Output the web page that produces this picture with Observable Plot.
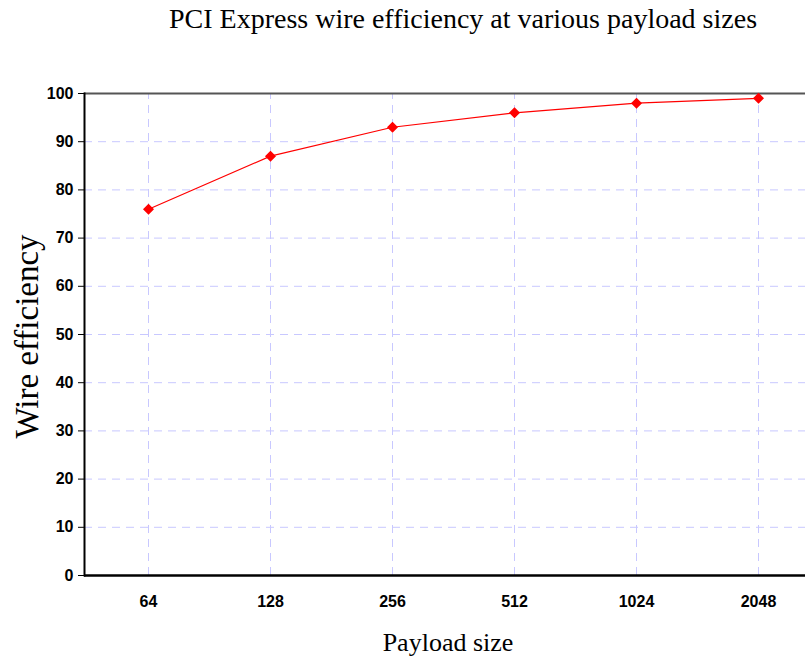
<!DOCTYPE html>
<html>
<head>
<meta charset="utf-8">
<script src="https://cdn.jsdelivr.net/npm/d3@7"></script>
<script src="https://cdn.jsdelivr.net/npm/@observablehq/plot@0.6"></script>
<style>
  body { margin: 0; background: #fff; }
  #wrap { position: relative; width: 805px; height: 656px; overflow: hidden; }
  #title { position: absolute; top: 5px; left: 121px; width: 684px; text-align: center; line-height: 28px;
           font-family: "Liberation Serif", "Times New Roman", serif; font-size: 28px; color: #000; }
</style>
</head>
<body>
<div id="wrap"><div id="title">PCI Express wire efficiency at various payload sizes</div></div>
<script>
const payloadSizes = ["64", "128", "256", "512", "1024", "2048"];
const efficiency = [76, 87, 93, 96, 98, 99];
const yTicks = [0, 10, 20, 30, 40, 50, 60, 70, 80, 90, 100];
const gridY = [10, 20, 30, 40, 50, 60, 70, 80, 90];

const data = payloadSizes.map((s, i) => ({size: s, eff: efficiency[i]}));

const chart = Plot.plot({
  width: 805,
  height: 656,
  marginTop: 93,
  marginBottom: 81,
  marginLeft: 84,
  marginRight: 0,
  style: {fontFamily: "Liberation Sans, Arial, sans-serif", background: "white", color: "black"},
  x: {type: "point", domain: payloadSizes, range: [146, 760], padding: 0},
  y: {domain: [0, 100]},
  marks: [
    Plot.ruleY(gridY, {stroke: "#c8c8ff", strokeDasharray: "8,6", strokeWidth: 1}),
    Plot.ruleX(payloadSizes, {y1: 0, y2: 100, stroke: "#c8c8ff", strokeDasharray: "8,6", strokeWidth: 1}),
    Plot.ruleY([100], {stroke: "#555", strokeWidth: 2}),
    Plot.ruleY([0], {stroke: "black", strokeWidth: 2.5}),
    Plot.frame({anchor: "left", stroke: "black", strokeWidth: 2}),
    Plot.axisY({ticks: yTicks, tickSize: 6, tickPadding: 5, fontSize: 16, fontWeight: "bold", label: null}),
    Plot.axisX({tickSize: 0, tickPadding: 20, fontSize: 16, fontWeight: "bold", label: null}),
    Plot.line(data, {x: "size", y: "eff", stroke: "red", strokeWidth: 1.2}),
    Plot.dot(data, {x: "size", y: "eff", symbol: "diamond2", r: 4, fill: "red", stroke: "red"}),
    Plot.text(["Wire efficiency"], {frameAnchor: "left", rotate: -90, dx: -57, dy: 2,
      fontSize: 33, fontFamily: "Liberation Serif, Times New Roman, serif", fill: "black", textAnchor: "middle"}),
    Plot.text(["Payload size"], {frameAnchor: "bottom", dx: 3, dy: 75,
      fontSize: 26, fontFamily: "Liberation Serif, Times New Roman, serif", fill: "black"})
  ]
});
document.getElementById("wrap").appendChild(chart);
</script>
</body>
</html>
